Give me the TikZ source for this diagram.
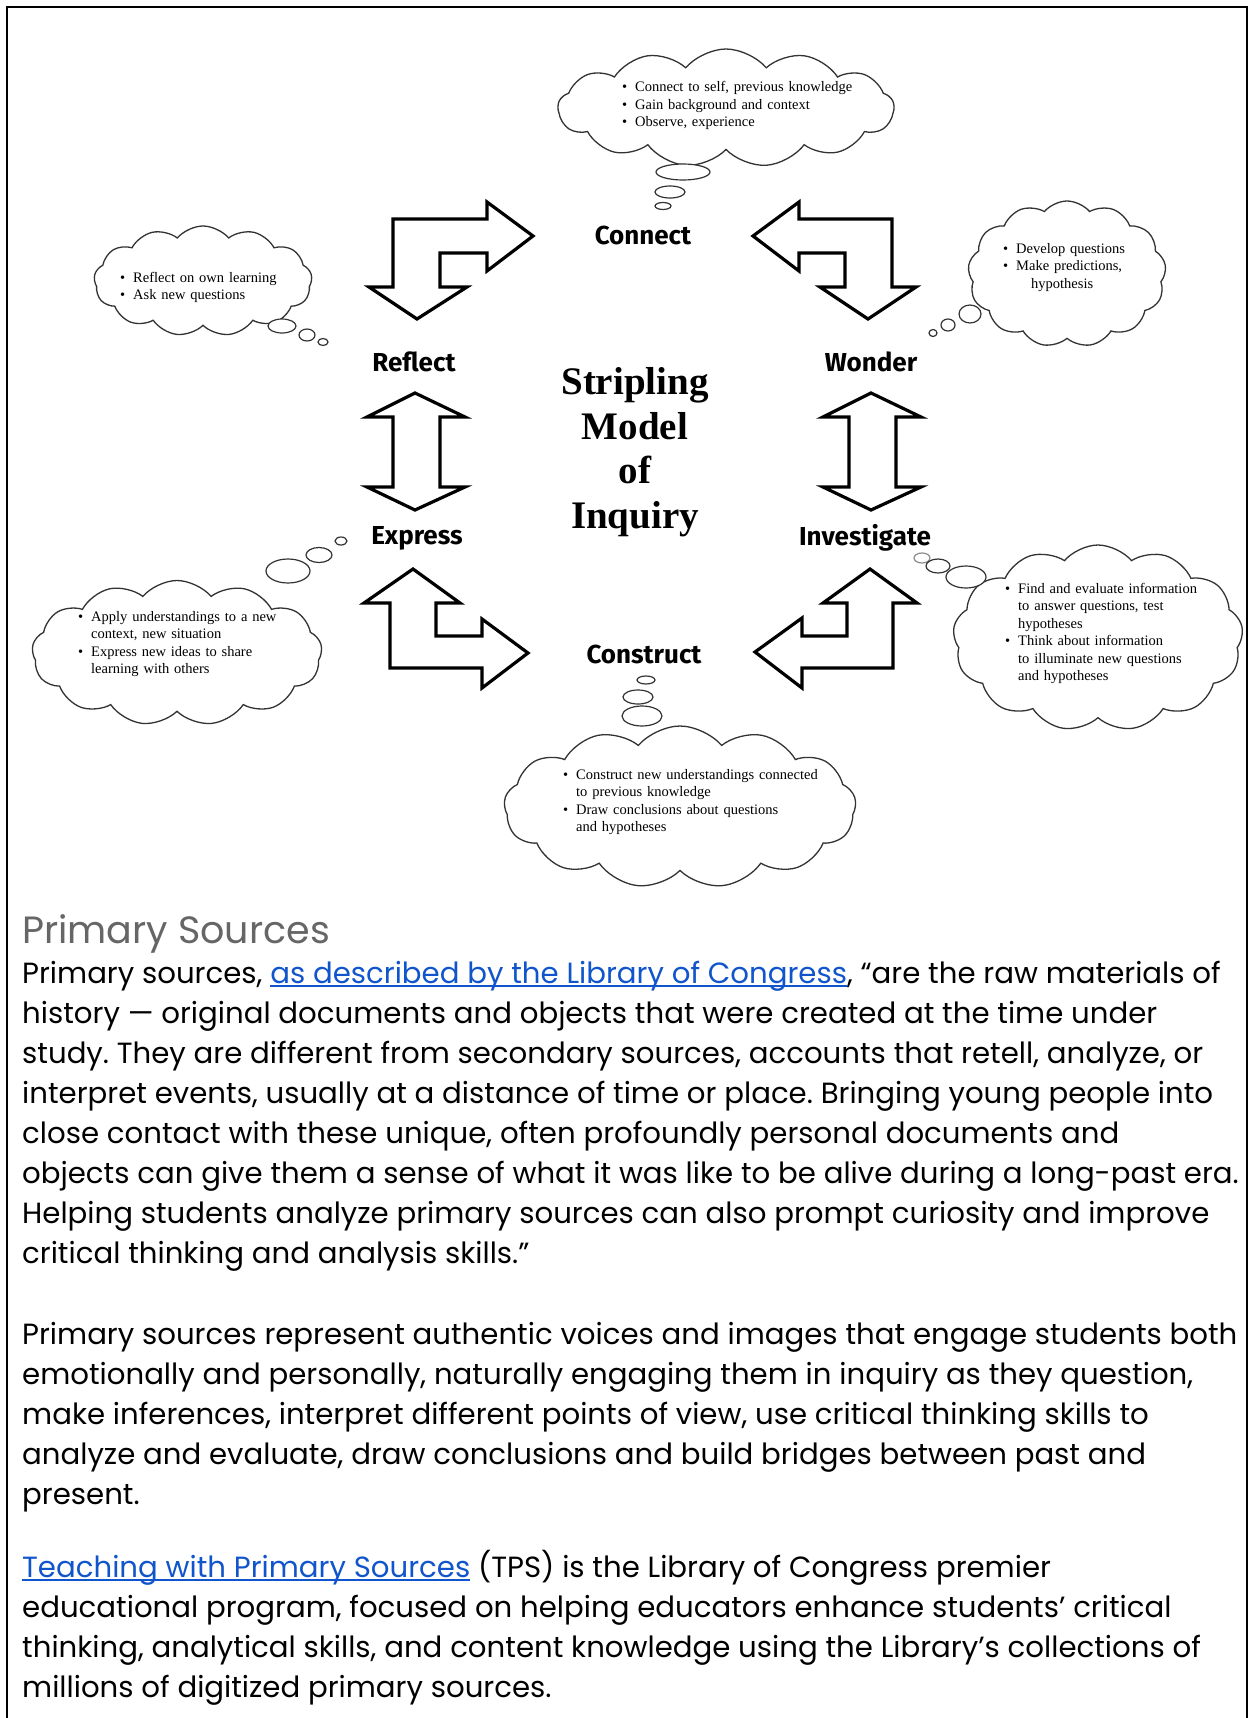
\documentclass[tikz,border=0pt]{standalone}
\usepackage{fontspec}
\setmainfont{Poppins}
\newfontfamily\stagefont{Fira Sans}
\newfontfamily\seriffont{Liberation Serif}
\usetikzlibrary{shapes.symbols}
\definecolor{linkblue}{HTML}{1155CC}
\definecolor{headgray}{HTML}{666666}
\newcommand{\itm}[1]{\makebox[13pt][l]{\textbullet}#1}
\newcommand{\cnt}[1]{\hspace*{13pt}#1}
\newcommand{\lnk}[1]{{\color{linkblue}\setbox0\hbox{#1}\rlap{\rule[-4pt]{\wd0}{1.8pt}}\box0}}
\frenchspacing

\begin{document}
\begin{tikzpicture}[x=1pt, y=-1pt,
    stage/.style={font=\stagefont\bfseries\fontsize{26}{30}\selectfont, inner sep=0pt},
    title/.style={font=\seriffont\bfseries\fontsize{39}{44.5}\selectfont, align=center, inner sep=0pt},
    cloudbox/.style={cloud, draw=black!80, line width=1.3pt, cloud puffs=13, cloud puff arc=100, cloud ignores aspect, inner sep=0pt},
    notetext/.style={font=\seriffont\fontsize{14.5}{17.5}\selectfont, text width=290pt, align=left, anchor=base west, inner sep=0pt},
    bubble/.style={draw=black!80, line width=1.2pt, fill=white},
    blockarr/.style={draw, line width=3.2pt, fill=white, line join=miter},
    body/.style={font=\fontsize{29.2}{40}\selectfont, anchor=base west, inner sep=0pt}
]
\useasboundingbox (0,0) rectangle (1253,1718);
\fill[white] (0,0) rectangle (1253,1718);
\draw[line width=2.5pt] (7,1718) -- (7,7) -- (1247,7) -- (1247,1718);

% stages
\node[stage] (connect) at (643,235) {Connect};
\node[stage] (reflect) at (414,362) {Reflect};
\node[stage] (wonder) at (871,362) {Wonder};
\node[stage] (express) at (417,538) {Express};
\node[stage] (investigate) at (865,538) {Investigate};
\node[stage] (construct) at (644,654) {Construct};
\node[title] (model) at (635,452) {Stripling\\Model\\of\\Inquiry};

% block arrows
\draw[blockarr] (393,219) -- (487,219) -- (487,202) -- (533,236) -- (487,271) -- (487,253) -- (440,253)
  -- (440,287) -- (467,287) -- (417,319) -- (369,287) -- (393,287) -- cycle;
\draw[blockarr] (753,236) -- (799,202) -- (799,219) -- (892,219) -- (892,287) -- (916,287) -- (868,319)
  -- (820,287) -- (845,287) -- (845,253) -- (799,253) -- (799,271) -- cycle;
\draw[blockarr] (415,393) -- (465,417) -- (440,417) -- (440,487) -- (465,487) -- (415,510) -- (367,487)
  -- (393,487) -- (393,417) -- (367,417) -- cycle;
\draw[blockarr] (871,393) -- (921,417) -- (896,417) -- (896,487) -- (921,487) -- (871,510) -- (823,487)
  -- (849,487) -- (849,417) -- (823,417) -- cycle;
\draw[blockarr] (413,569) -- (460,603) -- (436,603) -- (436,636) -- (482,636) -- (482,619) -- (528,653)
  -- (482,688) -- (482,668) -- (390,668) -- (390,603) -- (364,603) -- cycle;
\draw[blockarr] (870,569) -- (917,603) -- (893,603) -- (893,668) -- (802,668) -- (802,688) -- (755,652)
  -- (802,618) -- (802,636) -- (847,636) -- (847,603) -- (823,603) -- cycle;

% clouds
\node[cloudbox, minimum width=336pt, minimum height=118pt] (cconnect) at (726,108) {};
\node[cloudbox, minimum width=218pt, minimum height=110pt] (creflect) at (203,281) {};
\node[cloudbox, minimum width=198pt, minimum height=146pt] (cwonder) at (1067,274) {};
\node[cloudbox, minimum width=290pt, minimum height=145pt] (cexpress) at (177,653) {};
\node[cloudbox, minimum width=290pt, minimum height=186pt] (cinvest) at (1098,638) {};
\node[cloudbox, minimum width=352pt, minimum height=162pt] (cconstruct) at (680,807) {};

% thought bubbles
\draw[bubble] (683,172) ellipse (27 and 8);
\draw[bubble] (670,192) ellipse (15 and 6);
\draw[bubble] (663,206) ellipse (8 and 3.5);
\draw[bubble] (282,326) ellipse (14 and 7);
\draw[bubble] (307,335) ellipse (8 and 6);
\draw[bubble] (323,342) ellipse (5 and 3.5);
\draw[bubble] (970,314) ellipse (11 and 9);
\draw[bubble] (948,325) ellipse (7 and 6);
\draw[bubble] (933,333) ellipse (4 and 3.5);
\draw[bubble] (288,571) ellipse (22 and 12);
\draw[bubble] (319,555) ellipse (13 and 7.5);
\draw[bubble] (341,541) ellipse (6 and 4);
\draw[bubble, draw=black!45] (922,558) ellipse (8 and 5);
\draw[bubble] (938,566) ellipse (12 and 7);
\draw[bubble] (966,577) ellipse (20 and 11);
\draw[bubble] (646,680) ellipse (9 and 4);
\draw[bubble] (638,697) ellipse (15 and 7);
\draw[bubble] (642,716) ellipse (20 and 10);

% cloud texts
\node[notetext] (tconnect) at (622,92) {\itm{Connect to self, previous knowledge}\\\itm{Gain background and context}\\\itm{Observe, experience}};
\node[notetext] (treflect) at (120,282) {\itm{Reflect on own learning}\\\itm{Ask new questions}};
\node[notetext] (twonder) at (1003,253) {\itm{Develop questions}\\\itm{Make predictions,}\\\hspace*{28pt}hypothesis};
\node[notetext] (texpress) at (78,621) {\itm{Apply understandings to a new}\\\cnt{context, new situation}\\\itm{Express new ideas to share}\\\cnt{learning with others}};
\node[notetext] (tinvest) at (1005,593) {\itm{Find and evaluate information}\\\cnt{to answer questions, test}\\\cnt{hypotheses}\\\itm{Think about information}\\\cnt{to illuminate new questions}\\\cnt{and hypotheses}};
\node[notetext] (tconstruct) at (563,779) {\itm{Construct new understandings connected}\\\cnt{to previous knowledge}\\\itm{Draw conclusions about questions}\\\cnt{and hypotheses}};

% text below
\node[anchor=base west, inner sep=0pt, text=headgray, font=\fontsize{38}{48}\selectfont] (heading) at (22,943) {Primary Sources};
\node[body] (body1) at (22,983) {Primary sources, \lnk{as described by the Library of Congress}, “are the raw materials of};
\node[body] (body2) at (22,1023) {history — original documents and objects that were created at the time under};
\node[body] (body3) at (22,1063) {study. They are different from secondary sources, accounts that retell, analyze, or};
\node[body] (body4) at (22,1103) {interpret events, usually at a distance of time or place. Bringing young people into};
\node[body] (body5) at (22,1143) {close contact with these unique, often profoundly personal documents and};
\node[body] (body6) at (22,1183) {objects can give them a sense of what it was like to be alive during a long-past era.};
\node[body] (body7) at (22,1223) {Helping students analyze primary sources can also prompt curiosity and improve};
\node[body] (body8) at (22,1263) {critical thinking and analysis skills.”};
\node[body] (body9) at (22,1344) {Primary sources represent authentic voices and images that engage students both};
\node[body] (body10) at (22,1384) {emotionally and personally, naturally engaging them in inquiry as they question,};
\node[body] (body11) at (22,1424) {make inferences, interpret different points of view, use critical thinking skills to};
\node[body] (body12) at (22,1464) {analyze and evaluate, draw conclusions and build bridges between past and};
\node[body] (body13) at (22,1504) {present.};
\node[body] (body14) at (22,1577) {\lnk{Teaching with Primary Sources} (TPS) is the Library of Congress premier};
\node[body] (body15) at (22,1617) {educational program, focused on helping educators enhance students’ critical};
\node[body] (body16) at (22,1657) {thinking, analytical skills, and content knowledge using the Library’s collections of};
\node[body] (body17) at (22,1697) {millions of digitized primary sources.};
\end{tikzpicture}
\end{document}
